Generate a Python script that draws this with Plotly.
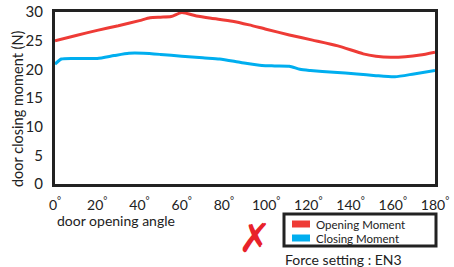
import plotly.graph_objects as go

angles_open = [0, 10, 20, 30, 40, 45, 50, 55, 60, 67, 74, 84, 92, 100, 111, 122, 134, 146, 152, 159, 166, 173, 180]
opening = [25.0, 25.9, 26.8, 27.6, 28.5, 29.0, 29.1, 29.2, 29.9, 29.3, 28.9, 28.4, 27.75, 27.0, 26.0, 25.1, 24.1, 22.7, 22.3, 22.1, 22.2, 22.5, 23.0]

angles_close = [0, 3, 10, 20, 28, 35, 42, 50, 60, 70, 78, 88, 98, 104, 111, 116, 121, 132, 143, 152, 161, 170, 180]
closing = [20.9, 21.8, 21.9, 21.9, 22.4, 22.8, 22.8, 22.6, 22.3, 22.0, 21.8, 21.2, 20.65, 20.6, 20.55, 20.0, 19.8, 19.5, 19.2, 18.9, 18.7, 19.2, 19.8]

series_names = ["Opening Moment", "Closing Moment"]
x_ticks = [0, 20, 40, 60, 80, 100, 120, 140, 160, 180]
x_ticklabels = [f"{v}<sup>°</sup>" for v in x_ticks]
y_ticks = [0, 5, 10, 15, 20, 25, 30]

RED = "#ee3b36"
BLUE = "#00aeef"
FONT = "Lato"
INK = "#222"

L, R, T, B = 55, 435, 12, 184
W, H = R - L, B - T


def px(X):
    return (X - L) / W


def py(Y):
    return (B - Y) / H


fig = go.Figure()
fig.add_trace(go.Scatter(x=angles_open, y=opening, mode="lines", name=series_names[0],
                         line=dict(color=RED, width=3, shape="spline", smoothing=0.6)))
fig.add_trace(go.Scatter(x=angles_close, y=closing, mode="lines", name=series_names[1],
                         line=dict(color=BLUE, width=3, shape="spline", smoothing=0.6)))

fig.update_layout(
    width=454, height=267,
    margin=dict(l=L, r=454 - R, t=T, b=267 - B, autoexpand=False),
    paper_bgcolor="white", plot_bgcolor="white",
    font=dict(family=FONT, color=INK),
    showlegend=False,
    xaxis=dict(range=[0, 180], tickvals=x_ticks, ticktext=x_ticklabels,
               showgrid=False, zeroline=False, showline=True, mirror=True,
               linecolor=INK, linewidth=3, ticks="", tickfont=dict(size=14),
               ticklabelstandoff=6, automargin=False),
    yaxis=dict(range=[0, 30], tickvals=y_ticks, showgrid=False, zeroline=False,
               showline=True, mirror=True, linecolor=INK, linewidth=3, ticks="",
               tickfont=dict(size=15), ticklabelstandoff=6, automargin=False),
)

# y-axis title
fig.add_annotation(text="door closing moment (N)", xref="paper", yref="paper",
                   x=px(17), y=py(109), xanchor="center", yanchor="middle", textangle=-90,
                   showarrow=False, font=dict(size=14.5, family=FONT, color=INK))

# legend box (drawn)
fig.add_shape(type="rect", xref="paper", yref="paper", x0=px(284), x1=px(436), y0=py(214), y1=py(246),
              line=dict(color=INK, width=3), fillcolor="white")
for i, (name, col) in enumerate(zip(series_names, [RED, BLUE])):
    yc = 224 + i * 14
    fig.add_shape(type="rect", xref="paper", yref="paper", x0=px(292), x1=px(310),
                  y0=py(yc + 3.5), y1=py(yc - 3.5), line=dict(width=0), fillcolor=col)
    fig.add_annotation(text=name, xref="paper", yref="paper", x=px(314), y=py(yc),
                       xanchor="left", yanchor="middle", showarrow=False,
                       font=dict(size=11.5, family=FONT, color=INK))

fig.add_annotation(text="door opening angle", xref="paper", yref="paper",
                   x=0, y=py(220), xanchor="left", yanchor="middle", showarrow=False,
                   font=dict(size=14, family=FONT, color=INK))
fig.add_annotation(text="<b><i>✗</i></b>", xref="paper", yref="paper",
                   x=px(255), y=py(238), xanchor="center", yanchor="middle",
                   showarrow=False, font=dict(size=40, family="DejaVu Sans", color="#e8222a"))
fig.add_annotation(text="Force setting : EN3", xref="paper", yref="paper",
                   x=px(283), y=py(259), xanchor="left", yanchor="middle",
                   showarrow=False, font=dict(size=14, family=FONT, color=INK))

fig.write_html("out.html", config={"displayModeBar": False},
               post_script="document.body.style.margin='0px';")
